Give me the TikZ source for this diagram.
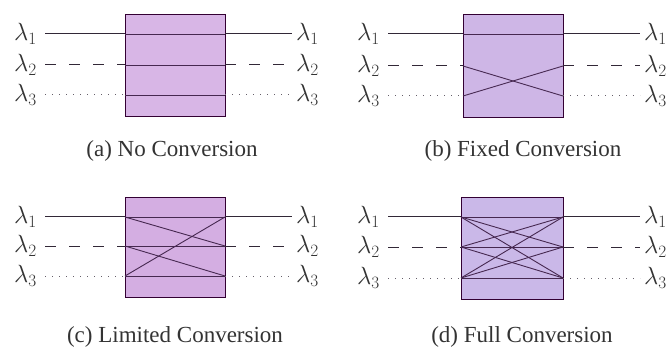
\documentclass[tikz,border=0pt]{standalone}
\usepackage{fontspec}
\setmainfont{Liberation Serif}
\definecolor{boxa}{RGB}{216,182,230}
\definecolor{boxb}{RGB}{206,182,230}
\definecolor{boxc}{RGB}{212,174,226}
\definecolor{boxd}{RGB}{202,184,232}
\definecolor{linec}{RGB}{50,40,55}
\definecolor{innerc}{RGB}{70,40,80}
\newcommand\lam[1]{$\lambda_{#1}$}
% #1 name, #2 left line start x, #3 box left, #4 box right, #5 right line end x,
% #6 #7 #8 line y, #9 fill colour
\newcommand\mkpanel[9]{%
  \pgfmathsetmacro\bw{#4-#3}%
  \pgfmathsetmacro\bh{#8-#6+41}%
  \pgfmathsetmacro\bx{(#3+#4)/2}%
  \pgfmathsetmacro\by{(#6+#8)/2+0.5}%
  \node[boxst, fill=#9, minimum width=\bw pt, minimum height=\bh pt] (#1box) at (\bx,\by) {};
  \coordinate (#1L1) at (#3,#6); \coordinate (#1L2) at (#3,#7); \coordinate (#1L3) at (#3,#8);
  \coordinate (#1R1) at (#4,#6); \coordinate (#1R2) at (#4,#7); \coordinate (#1R3) at (#4,#8);
  \node[labl, anchor=east] (#1I1) at (#2,#6) {\lam1};
  \node[labl, anchor=east] (#1I2) at (#2,#7) {\lam2};
  \node[labl, anchor=east] (#1I3) at (#2,#8) {\lam3};
  \node[labr, anchor=west] (#1O1) at (#5,#6) {\lam1};
  \node[labr, anchor=west] (#1O2) at (#5,#7) {\lam2};
  \node[labr, anchor=west] (#1O3) at (#5,#8) {\lam3};
  \draw[wone] (#1I1.east) -- (#1L1);
  \draw[wtwo] (#1I2.east) -- (#1L2);
  \draw[wthree] (#1I3.east) -- (#1L3);
  \draw[wone] (#1R1) -- (#1O1.west);
  \draw[wtwo] (#1R2) -- (#1O2.west);
  \draw[wthree] (#1R3) -- (#1O3.west);
}
\begin{document}
\begin{tikzpicture}[x=1pt,y=-1pt,
  boxst/.style={draw=black!60!violet, line width=0.7pt, inner sep=0pt},
  labl/.style={font=\fontsize{23}{27}\selectfont, text=black!80, inner sep=8pt},
  labr/.style={font=\fontsize{23}{27}\selectfont, text=black!80, inner sep=4pt},
  capst/.style={font=\fontsize{23}{27}\selectfont, text=black!80, inner sep=0pt},
  wone/.style={line width=1pt, draw=linec},
  wtwo/.style={wone, dash pattern=on 11pt off 13pt},
  wthree/.style={line width=1pt, draw=linec!75, dash pattern=on 1.2pt off 5.8pt},
  innerst/.style={line width=0.9pt, draw=innerc}]
\useasboundingbox (0,0) rectangle (670,350);
\fill[white] (0,0) rectangle (670,350);

% (a) No Conversion
\mkpanel{a}{45}{125}{225}{292}{34}{65}{95}{boxa}
\draw[innerst] (aL1) -- (aR1);
\draw[innerst] (aL2) -- (aR2);
\draw[innerst] (aL3) -- (aR3);
\node[capst] (capa) at (172,151) {(a) No Conversion};

% (b) Fixed Conversion
\mkpanel{b}{388}{463}{563}{640}{34}{66}{96}{boxb}
\draw[innerst] (bL1) -- (bR1);
\draw[innerst] (bL2) -- (bR3);
\draw[innerst] (bL3) -- (bR2);
\node[capst] (capb) at (523,151) {(b) Fixed Conversion};

% (c) Limited Conversion
\mkpanel{c}{45}{125}{225}{292}{217}{246}{276}{boxc}
\draw[innerst] (cL1) -- (cR1);
\draw[innerst] (cL2) -- (cR2);
\draw[innerst] (cL3) -- (cR3);
\draw[innerst] (cL1) -- (cR2);
\draw[innerst] (cL2) -- (cR3);
\draw[innerst] (cL3) -- (cR1);
\node[capst] (capc) at (175,337) {(c) Limited Conversion};

% (d) Full Conversion
\mkpanel{d}{388}{461}{563}{640}{217}{247}{278}{boxd}
\foreach \i in {1,2,3}{\foreach \j in {1,2,3}{\draw[innerst] (dL\i) -- (dR\j);}}
\node[capst] (capd) at (522,337) {(d) Full Conversion};
\end{tikzpicture}
\end{document}
